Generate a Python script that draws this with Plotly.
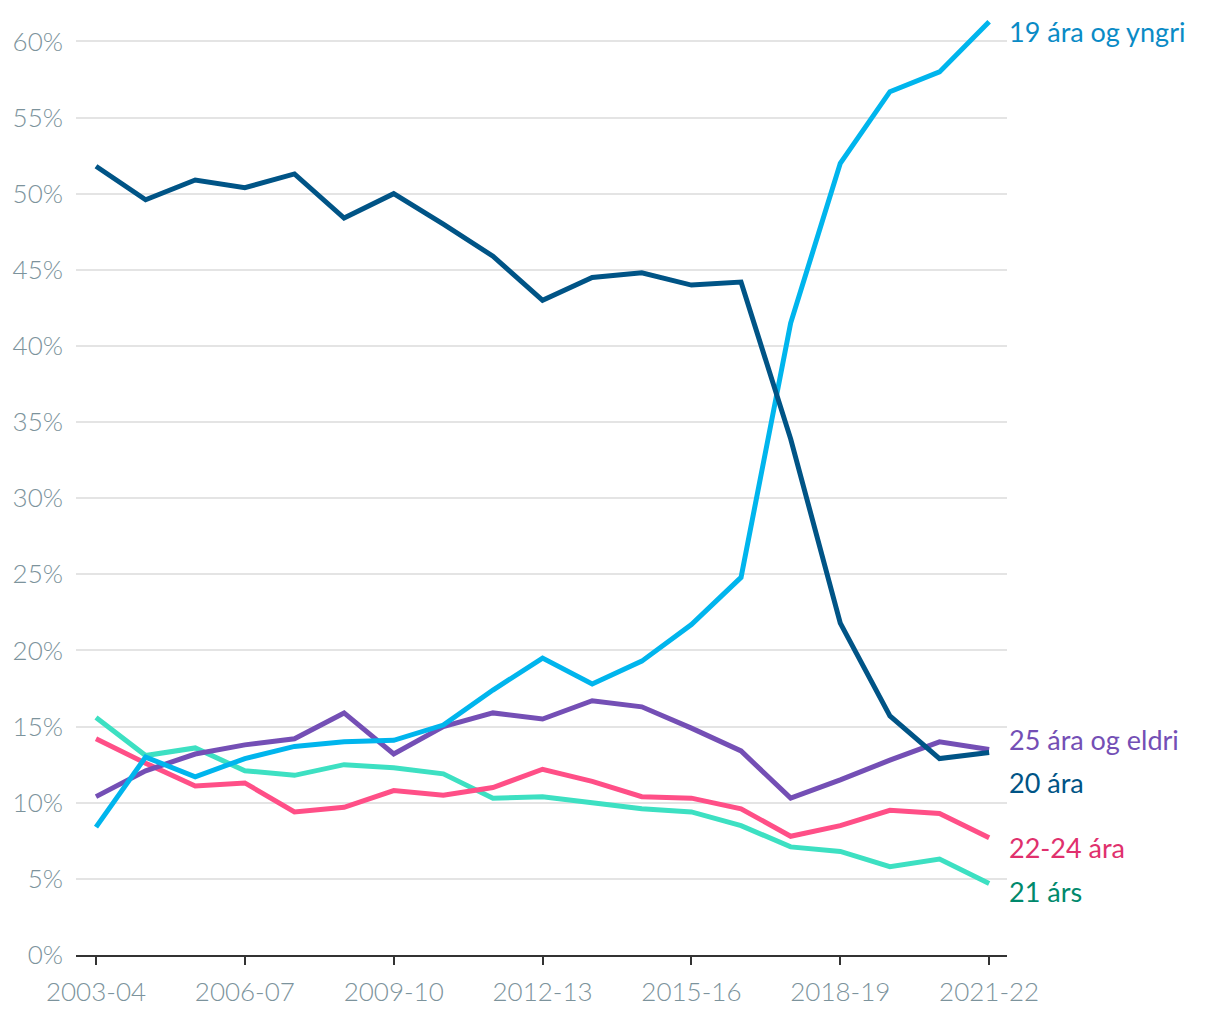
import plotly.graph_objects as go

years = ["2003-04", "2004-05", "2005-06", "2006-07", "2007-08", "2008-09", "2009-10",
         "2010-11", "2011-12", "2012-13", "2013-14", "2014-15", "2015-16", "2016-17",
         "2017-18", "2018-19", "2019-20", "2020-21", "2021-22"]

age19 = [8.4, 13.0, 11.7, 12.9, 13.7, 14.0, 14.1, 15.1, 17.4, 19.5, 17.8, 19.3, 21.7, 24.8,
         41.5, 52.0, 56.7, 58.0, 61.3]
age20 = [51.8, 49.6, 50.9, 50.4, 51.3, 48.4, 50.0, 48.0, 45.9, 43.0, 44.5, 44.8, 44.0, 44.2,
         33.9, 21.8, 15.7, 12.9, 13.3]
age25 = [10.4, 12.1, 13.2, 13.8, 14.2, 15.9, 13.2, 15.0, 15.9, 15.5, 16.7, 16.3, 14.9, 13.4,
         10.3, 11.5, 12.8, 14.0, 13.5]
age22_24 = [14.2, 12.6, 11.1, 11.3, 9.4, 9.7, 10.8, 10.5, 11.0, 12.2, 11.4, 10.4, 10.3, 9.6,
            7.8, 8.5, 9.5, 9.3, 7.7]
age21 = [15.6, 13.1, 13.6, 12.1, 11.8, 12.5, 12.3, 11.9, 10.3, 10.4, 10.0, 9.6, 9.4, 8.5,
         7.1, 6.8, 5.8, 6.3, 4.7]

series_names = ["21 árs", "22-24 ára", "25 ára og eldri", "19 ára og yngri", "20 ára"]
series_values = [age21, age22_24, age25, age19, age20]
line_colors = ["#3de0c2", "#ff4f87", "#744fb5", "#00b5ed", "#005486"]
label_colors = ["#00896c", "#e0306d", "#744fb5", "#0a8bc6", "#005486"]
label_y = [4.14, 7.09, 14.18, 60.66, 11.36]

tick_years = years[::3]
y_ticks = list(range(0, 61, 5))
y_ticktext = [f"{v}%" for v in y_ticks]

fig = go.Figure()
for name, vals, col in zip(series_names, series_values, line_colors):
    fig.add_trace(go.Scatter(x=years, y=vals, mode="lines", name=name,
                             line=dict(color=col, width=5), showlegend=False,
                             hoverinfo="skip"))

for name, ly, col in zip(series_names, label_y, label_colors):
    fig.add_annotation(x=1, xref="paper", y=ly, yref="y", text=name,
                       xanchor="left", yanchor="middle", xshift=0, showarrow=False,
                       font=dict(family="Lato", size=27, color=col))

fig.update_layout(
    width=1220, height=1020,
    margin=dict(l=68, r=221, t=2.6, b=73),
    paper_bgcolor="white", plot_bgcolor="white",
    font=dict(family="Lato"),
)
fig.update_xaxes(
    type="category", range=[-0.403, 18.36],
    tickvals=tick_years, ticktext=tick_years,
    ticks="outside", ticklen=8, tickwidth=2, tickcolor="#333333",
    showline=True, linecolor="#333333", linewidth=2,
    showgrid=False, zeroline=False,
    tickfont=dict(family="Lato", size=26, color="#7c939c", weight=300),
    ticklabelstandoff=5,
)
fig.update_yaxes(
    range=[0, 62], tickvals=y_ticks, ticktext=y_ticktext,
    showgrid=True, gridcolor="#e4e4e4", gridwidth=1.5,
    zeroline=False, showline=False, ticks="",
    tickfont=dict(family="Lato", size=26, color="#7c939c", weight=300),
    ticklabelstandoff=12,
)

fig.write_html("out.html")
